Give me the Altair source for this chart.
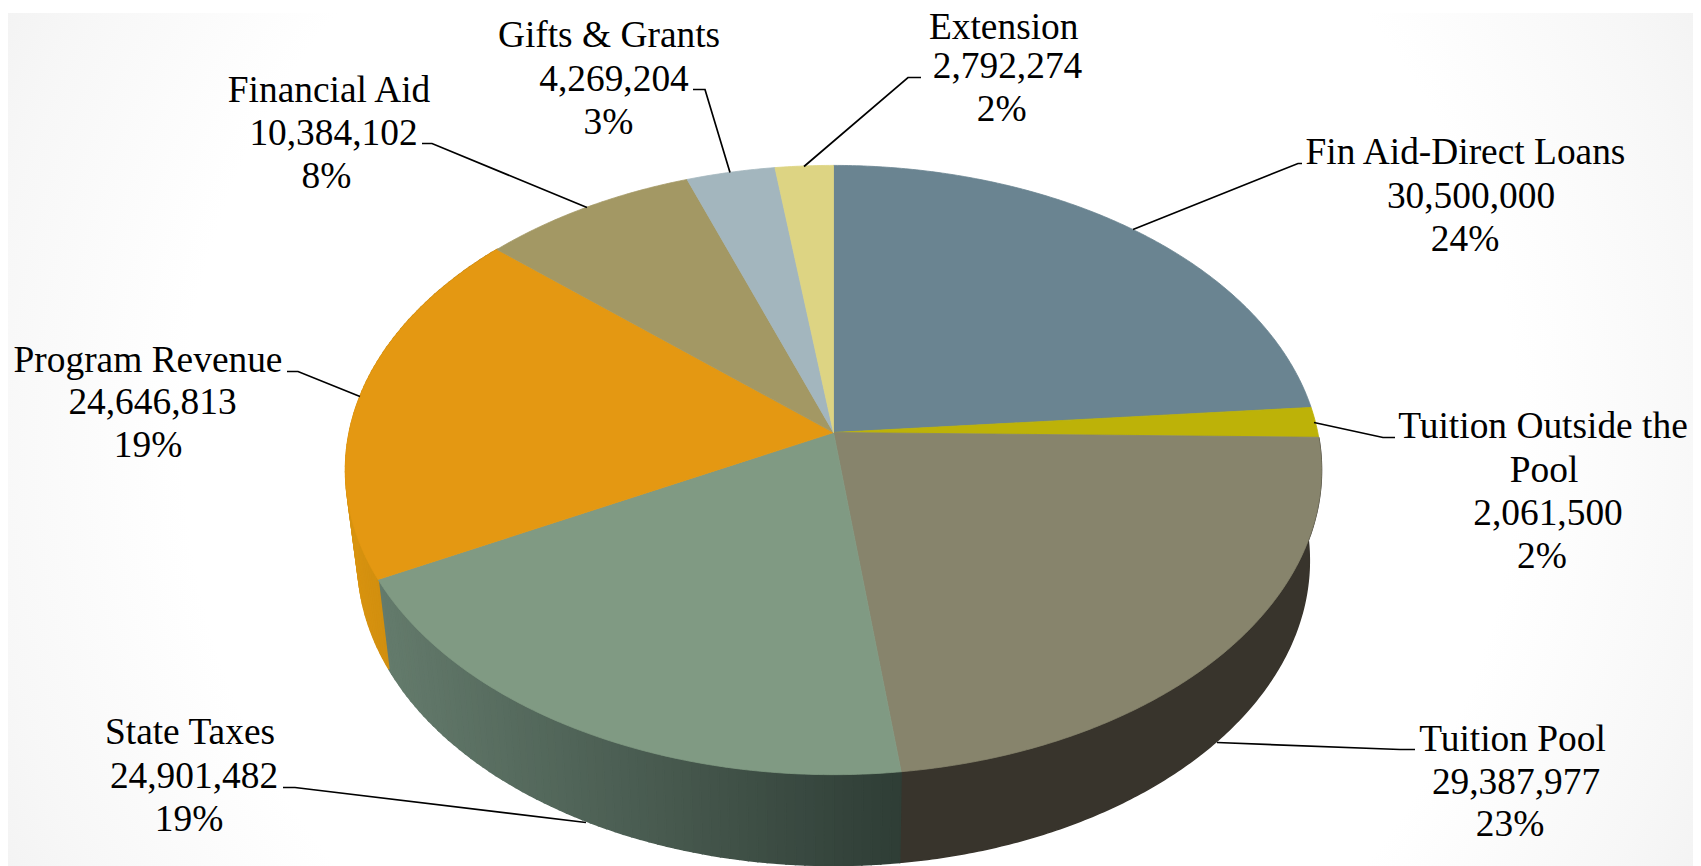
import numpy as np
import pandas as pd
import altair as alt

# ---- chart values (clockwise from 12 o'clock) ----
categories = ["Fin Aid-Direct Loans", "Tuition Outside the Pool", "Tuition Pool", "State Taxes",
              "Program Revenue", "Financial Aid", "Gifts & Grants", "Extension"]
values = [30500000, 2061500, 29387977, 24901482, 24646813, 10384102, 4269204, 2792274]
top_colors = ["#6A8491", "#BDB208", "#87846C", "#809A83", "#E49812", "#A39864", "#A3B6BE", "#DDD483"]
# wall shade at the left and right end of each visible wall
wall_colors = {"Tuition Pool": ("#38342C", "#38342C"),
               "State Taxes": ("#647B6C", "#2F3D36"),
               "Program Revenue": ("#D8930F", "#BC8010")}

# ---- label text: lines, centre x, baseline y ----
label_lines = ["Fin Aid-Direct Loans", "30,500,000", "24%",
               "Tuition Outside the", "Pool", "2,061,500", "2%",
               "Tuition Pool", "29,387,977", "23%",
               "State Taxes", "24,901,482", "19%",
               "Program Revenue", "24,646,813", "19%",
               "Financial Aid", "10,384,102", "8%",
               "Gifts & Grants", "4,269,204", "3%",
               "Extension", "2,792,274", "2%"]
label_x = [1465.5, 1471, 1465,
           1543, 1544, 1548, 1542,
           1512.5, 1516, 1510,
           190, 194, 189,
           148, 152.5, 148,
           329, 333.5, 326.5,
           609, 614, 608.5,
           1003.7, 1007.5, 1001.7]
label_y = [163, 207, 250,
           437, 481, 524, 567,
           750, 793, 835,
           743, 787, 830,
           371, 413, 456,
           101, 144, 187,
           46, 90, 133,
           38, 77, 120]

# ---- leader lines ----
leaders = [[(1133, 229), (1298, 163), (1302, 163)],
           [(1314, 422), (1383, 437), (1395, 437)],
           [(1217, 742), (1400, 749), (1415, 749)],
           [(586, 822), (295, 787), (283, 787)],
           [(360, 396), (298, 371), (287, 371)],
           [(587, 207), (432, 143), (422, 143)],
           [(730, 172), (705, 89), (693, 89)],
           [(804, 166), (908, 77), (921, 77)]]

# ---- perspective of the tilted disc ----
CX = 833.5
TOP = dict(y0=432.0, s=484.3, c=300.0, k=0.1232)
BOT = dict(y0=521.5, s=472.0, c=300.0, k=0.1266)


def project(theta_deg, p):
    t = np.radians(theta_deg)
    u, v = np.sin(t), np.cos(t)
    d = 1 + p["k"] * v
    return CX + p["s"] * u / d, p["y0"] - p["c"] * v / d


def mix(a, b, f):
    ca = [int(a[i:i + 2], 16) for i in (1, 3, 5)]
    cb = [int(b[i:i + 2], 16) for i in (1, 3, 5)]
    return "#%02x%02x%02x" % tuple(int(round(x + (y - x) * f)) for x, y in zip(ca, cb))


total = sum(values)
edges = np.concatenate([[0], np.cumsum(values)]) / total * 360

top_rows, wall_rows = [], []
for i, name in enumerate(categories):
    a0, a1 = edges[i], edges[i + 1]
    # top face
    pts = [(CX, TOP["y0"])]
    for th in np.linspace(a0, a1, max(3, int((a1 - a0) * 2))):
        pts.append(project(th, TOP))
    for j, (x, y) in enumerate(pts):
        top_rows.append(dict(g=name, o=j, x=x, y=y, col=top_colors[i]))
    # wall: thin strips so that the shade can run along the wall
    if name in wall_colors:
        left, right = wall_colors[name]
        if left == right:
            arc = np.linspace(a0, a1, int(a1 - a0) * 2)
            ring = [project(th, TOP) for th in arc] + [project(th, BOT) for th in arc[::-1]]
            for j, (x, y) in enumerate(ring):
                wall_rows.append(dict(g=name, o=j, x=x, y=y, col=left))
            continue
        steps = np.linspace(a0, a1, max(3, int(a1 - a0) + 1))
        xs = [project(th, TOP)[0] for th in steps]
        xmin, xmax = min(xs), max(xs)
        for n in range(len(steps) - 1):
            t0, t1 = steps[n], steps[n + 1]
            xm = (project(t0, TOP)[0] + project(t1, TOP)[0]) / 2
            col = mix(left, right, (xm - xmin) / (xmax - xmin))
            quad = [project(t0, TOP), project(t1, TOP), project(t1, BOT), project(t0, BOT)]
            for j, (x, y) in enumerate(quad):
                wall_rows.append(dict(g=f"{name}{n}", o=j, x=x, y=y, col=col))

top_df = pd.DataFrame(top_rows)
wall_df = pd.DataFrame(wall_rows)
lead_df = pd.DataFrame([dict(g=i, o=j, x=x, y=y) for i, l in enumerate(leaders) for j, (x, y) in enumerate(l)])
text_df = pd.DataFrame(dict(t=label_lines, x=label_x, y=label_y))

W, H = 1685, 853
TOP_Y = 12.5
xs = alt.Scale(domain=[8, 8 + W], nice=False, zero=False)
ys = alt.Scale(domain=[TOP_Y + H, TOP_Y], nice=False, zero=False)
X = alt.X("x:Q", scale=xs, axis=None)
Y = alt.Y("y:Q", scale=ys, axis=None)

bg = alt.Chart(pd.DataFrame({"a": [0]})).mark_rect(
    fill=alt.RadialGradient(
        gradient="radial", x1=0.5, y1=0.5, r1=0, x2=0.5, y2=0.5, r2=0.72,
        stops=[alt.GradientStop(offset=0, color="#ffffff"),
               alt.GradientStop(offset=0.55, color="#ffffff"),
               alt.GradientStop(offset=0.72, color="#f7f7f7"),
               alt.GradientStop(offset=1, color="#e6e6e6")])
).encode(x=alt.value(0), x2=alt.value(W), y=alt.value(0), y2=alt.value(H))


def polys(df, sw):
    return alt.Chart(df).mark_line(interpolate="linear-closed", strokeWidth=sw).encode(
        x=X, y=Y, detail="g:N", order="o:Q",
        fill=alt.Fill("col:N", scale=None),
        stroke=alt.Stroke("col:N", scale=None))


walls = polys(wall_df, 1.5)
tops = polys(top_df, 0.8)
lines = alt.Chart(lead_df).mark_line(color="#000000", strokeWidth=1.7).encode(
    x=X, y=Y, detail="g:N", order="o:Q")
text = alt.Chart(text_df).mark_text(
    font="Liberation Serif", fontSize=37.4, color="#000000", align="center", baseline="alphabetic"
).encode(x=X, y=Y, text="t:N")

chart = (bg + walls + tops + lines + text).properties(
    width=W, height=H, padding=0
).configure_view(stroke=None)

chart.save("out.html", embed_options={"renderer": "svg", "actions": False})
